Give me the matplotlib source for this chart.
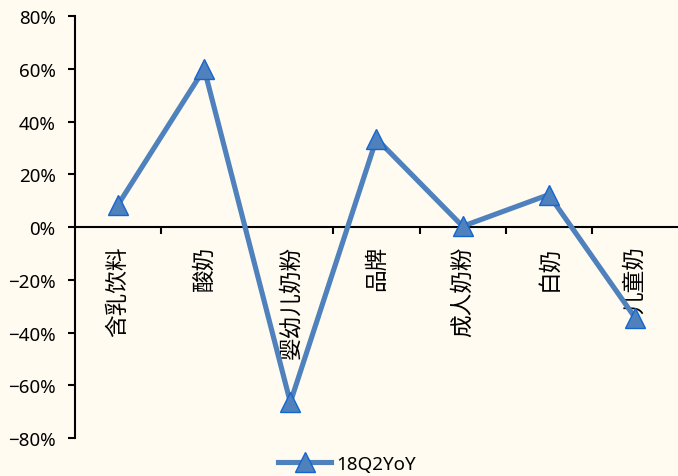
import matplotlib
matplotlib.use("Agg")
import matplotlib.pyplot as plt
from matplotlib.ticker import FixedLocator, FuncFormatter
from matplotlib.lines import Line2D

categories = ["含乳饮料", "酸奶", "婴幼儿奶粉", "品牌", "成人奶粉", "白奶", "儿童奶"]
yoy_18q2 = [8.5, 60.0, -66.5, 33.5, 0.3, 12.3, -34.3]
series_name = "18Q2YoY"
y_ticks = [-80, -60, -40, -20, 0, 20, 40, 60, 80]

bg = "#FFFBF0"
line_color = "#4F81BD"
edge_color = "#1565D0"

fig = plt.figure(figsize=(6.78, 4.77), dpi=100, facecolor=bg)
ax = fig.add_axes([0.1106, 0.0797, 0.8894, 0.8843], facecolor=bg)

x = list(range(len(categories)))
ax.plot(x, yoy_18q2, color=line_color, linewidth=3.7, marker="^",
        markersize=14.5, markerfacecolor=line_color, markeredgecolor=edge_color,
        markeredgewidth=1.0, solid_joinstyle="miter", zorder=3, clip_on=False)

ax.set_xlim(-0.5, len(categories) - 0.5)
ax.set_ylim(-80, 80)

# spines
for s in ["top", "right"]:
    ax.spines[s].set_visible(False)
ax.spines["bottom"].set_position(("data", 0))
ax.spines["bottom"].set_linewidth(1.5)
ax.spines["left"].set_linewidth(1.5)
ax.spines["bottom"].set_zorder(2)

# y ticks
ax.yaxis.set_major_locator(FixedLocator(y_ticks))
ax.yaxis.set_major_formatter(FuncFormatter(lambda v, p: f"{int(v)}%".replace("-", "\u2212")))
ax.tick_params(axis="y", direction="out", length=5, width=1.5, pad=9,
               labelsize=13.5, colors="black")
for lab in ax.get_yticklabels():
    lab.set_fontfamily(["Noto Sans", "DejaVu Sans"])

# x ticks: labels at centres, tick marks at boundaries
ax.set_xticks(x)
ax.set_xticklabels(categories, rotation=90, va="top", ha="center",
                   fontsize=16.3, family=["Noto Sans CJK SC", "DejaVu Sans"])
ax.tick_params(axis="x", which="major", length=0, pad=13)
ax.set_xticks([i + 0.5 for i in range(len(categories) - 1)], minor=True)
ax.tick_params(axis="x", which="minor", direction="out", length=5, width=1.5)

handle = Line2D([], [], color=line_color, linewidth=3.7, marker="^", markersize=14.5,
                markerfacecolor=line_color, markeredgecolor=edge_color, markeredgewidth=1.0)
fig.legend([handle], [series_name], loc="center", bbox_to_anchor=(0.512, 0.026),
           frameon=False, handlelength=2.8, handletextpad=0.3,
           prop={"family": ["Noto Sans", "DejaVu Sans"], "size": 13.5})

fig.savefig("out.png", dpi=100, facecolor=bg)
